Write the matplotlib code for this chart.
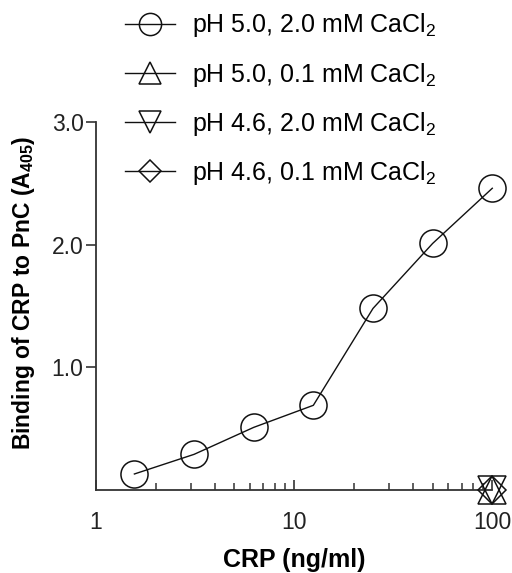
import matplotlib.pyplot as plt
from matplotlib.ticker import FixedLocator, LogLocator, NullFormatter

plt.rcParams['font.family'] = ['Liberation Sans', 'DejaVu Sans']
plt.rcParams['mathtext.fontset'] = 'custom'
plt.rcParams['mathtext.rm'] = 'Liberation Sans'
plt.rcParams['mathtext.bf'] = 'Liberation Sans:bold'

# CRP concentrations (ng/ml), doubling dilutions
crp = [1.5625, 3.125, 6.25, 12.5, 25, 50, 100]
ph50_ca20 = [0.13, 0.29, 0.51, 0.69, 1.48, 2.01, 2.46]

crp_other = [100]
ph50_ca01 = [0.0]
ph46_ca20 = [0.0]
ph46_ca01 = [0.0]

labels = ['pH 5.0, 2.0 mM CaCl$_\\mathrm{2}$', 'pH 5.0, 0.1 mM CaCl$_\\mathrm{2}$',
          'pH 4.6, 2.0 mM CaCl$_\\mathrm{2}$', 'pH 4.6, 0.1 mM CaCl$_\\mathrm{2}$']

fig = plt.figure(figsize=(5.12, 5.73), dpi=100)
ax = fig.add_axes([0.1875, 0.145, 0.774, 0.642])

mk = dict(color='#111111', mfc='none', mec='#111111', lw=1.0, mew=1.1, clip_on=False)
h1, = ax.plot(crp, ph50_ca20, marker='o', ms=19.5, zorder=3, **mk)
h2, = ax.plot(crp_other, ph50_ca01, marker='^', ms=19.5, zorder=4, **mk)
h3, = ax.plot(crp_other, ph46_ca20, marker='v', ms=19.5, zorder=4, **mk)
h4, = ax.plot(crp_other, ph46_ca01, marker='D', ms=13.8, zorder=4, **mk)

ax.set_xscale('log')
ax.set_xlim(1, 100)
ax.set_ylim(0, 3.0)

ax.spines['top'].set_visible(False)
ax.spines['right'].set_visible(False)
for s in ['left', 'bottom']:
    ax.spines[s].set_linewidth(1.3)
    ax.spines[s].set_color('#333333')

ax.yaxis.set_major_locator(FixedLocator([1.0, 2.0, 3.0]))
ax.set_yticklabels(['1.0', '2.0', '3.0'])
ax.tick_params(axis='y', direction='out', length=7, width=1.2, labelsize=16.5,
               colors='#333333', labelcolor='#222222', pad=2)

ax.xaxis.set_major_locator(FixedLocator([1, 10, 100]))
ax.set_xticklabels(['1', '10', '100'])
ax.xaxis.set_minor_locator(LogLocator(base=10, subs=range(2, 10)))
ax.xaxis.set_minor_formatter(NullFormatter())
ax.tick_params(axis='x', which='major', direction='in', length=7, width=1.2,
               labelsize=16.5, colors='#333333', labelcolor='#222222', pad=15)
ax.tick_params(axis='x', which='minor', direction='in', length=5, width=1.1,
               colors='#333333')

ax.set_xlabel('CRP (ng/ml)', fontsize=18, fontweight='bold', labelpad=10)
ax.set_ylabel('Binding of CRP to PnC (A$_{\\mathbf{405}}$)', fontsize=16.5,
              fontweight='bold')
ax.yaxis.set_label_coords(-0.15, 0.535)

fig.legend([h1, h2, h3, h4], labels, loc='upper left',
           bbox_to_anchor=(0.244, 0.98), frameon=False, fontsize=18,
           borderpad=0, borderaxespad=0,
           handlelength=2.0, handletextpad=0.68, labelspacing=0.85,
           markerscale=0.82)

fig.savefig('out.png', dpi=100, facecolor='white')
